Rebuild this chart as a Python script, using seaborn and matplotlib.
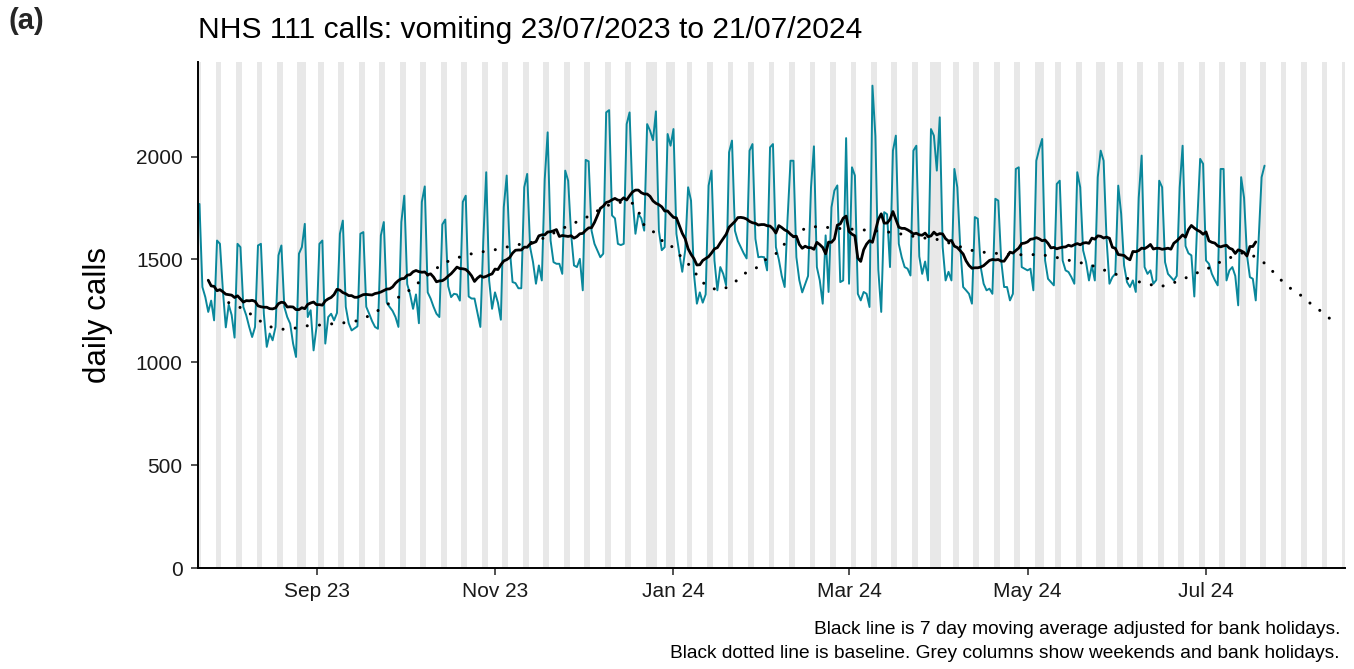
import numpy as np
import pandas as pd
import matplotlib
matplotlib.use("Agg")
import matplotlib.pyplot as plt
import matplotlib.dates as mdates
import seaborn as sns

# ---------------- data ----------------
start_date = "2023-07-23"

# daily NHS 111 calls (vomiting), 23/07/2023 .. 21/07/2024, one row per week (Sun..Sat)
daily_calls = [
    1770, 1366, 1317, 1245, 1300, 1204, 1592,
    1576, 1350, 1170, 1280, 1230, 1120, 1576,
    1560, 1269, 1228, 1172, 1123, 1172, 1568,
    1576, 1236, 1075, 1140, 1107, 1172, 1520,
    1568, 1269, 1220, 1188, 1091, 1026, 1528,
    1560, 1673, 1220, 1253, 1058, 1172, 1576,
    1592, 1091, 1220, 1236, 1204, 1240, 1625,
    1689, 1270, 1190, 1155, 1165, 1175, 1625,
    1633, 1270, 1236, 1200, 1172, 1163, 1617,
    1682, 1290, 1269, 1250, 1220, 1172, 1682,
    1810, 1380, 1330, 1260, 1330, 1190, 1780,
    1855, 1340, 1310, 1270, 1236, 1220, 1670,
    1694, 1370, 1317, 1333, 1330, 1300, 1780,
    1810, 1320, 1310, 1310, 1240, 1172, 1590,
    1924, 1398, 1260, 1340, 1290, 1207, 1754,
    1908, 1560, 1390, 1385, 1360, 1360, 1851,
    1916, 1560, 1487, 1382, 1471, 1398, 1890,
    2118, 1592, 1487, 1479, 1479, 1430, 1932,
    1883, 1625, 1471, 1463, 1503, 1350, 1984,
    1977, 1640, 1576, 1544, 1511, 1528, 2215,
    2226, 1714, 1700, 1576, 1570, 1576, 2158,
    2215, 1803, 1625, 1720, 1700, 1640, 2158,
    2126, 2080, 2220, 1640, 1545, 1560, 2110,
    2053, 2134, 1625, 1528, 1440, 1544, 1851,
    1786, 1430, 1285, 1340, 1290, 1330, 1859,
    1932, 1495, 1350, 1463, 1430, 1374, 2021,
    2078, 1640, 1590, 1560, 1530, 1505, 2029,
    2061, 1600, 1511, 1513, 1511, 1447, 2045,
    2061, 1560, 1500, 1420, 1366, 1700, 1980,
    1980, 1511, 1400, 1340, 1380, 1420, 1850,
    2050, 1463, 1398, 1285, 1617, 1342, 1754,
    1835, 1860, 1390, 1398, 2090, 1382, 1948,
    1908, 1333, 1301, 1342, 1333, 1269, 2345,
    2100, 1450, 1245, 1730, 1720, 1463, 2029,
    2102, 1576, 1511, 1463, 1455, 1422, 2029,
    2053, 1515, 1430, 1490, 1398, 2134, 2102,
    1932, 2191, 1560, 1398, 1440, 1398, 1940,
    1851, 1560, 1366, 1350, 1333, 1285, 1706,
    1698, 1463, 1382, 1350, 1358, 1333, 1795,
    1786, 1495, 1366, 1366, 1301, 1333, 1940,
    1948, 1463, 1455, 1447, 1455, 1350, 1980,
    2037, 2086, 1495, 1406, 1390, 1374, 1867,
    1883, 1495, 1447, 1439, 1414, 1382, 1924,
    1851, 1544, 1487, 1398, 1471, 1398, 1900,
    2029, 1980, 1600, 1382, 1414, 1430, 1859,
    1722, 1471, 1390, 1366, 1398, 1342, 1800,
    2005, 1463, 1430, 1447, 1382, 1400, 1883,
    1851, 1487, 1430, 1414, 1398, 1420, 1850,
    2053, 1565, 1530, 1520, 1320, 1680, 1989,
    1965, 1495, 1479, 1430, 1400, 1374, 1940,
    1940, 1398, 1447, 1463, 1420, 1277, 1900,
    1800, 1520, 1414, 1406, 1301, 1600, 1900,
    1956,
]

# baseline (day offset from start_date, calls)
baseline_day = [10, 14, 18, 21, 25, 29, 33, 37, 41, 46, 50, 54, 58, 62, 66, 69, 73, 76,
                80, 83, 87, 91, 95, 100, 104, 108, 113, 117, 121, 125, 129, 133, 137,
                141, 145, 148, 150, 152, 155, 158, 160, 163, 166, 169, 171, 175, 179,
                183, 186, 190, 193, 197, 200, 204, 207, 211, 216, 220, 225, 229, 233,
                238, 242, 246, 250, 253, 257, 261, 265, 270, 274, 279, 283, 287, 291,
                295, 299, 304, 307, 311, 315, 319, 324, 328, 332, 336, 340, 344, 348,
                352, 356, 360, 364, 367, 370, 373, 377, 380, 384, 387]
baseline_calls = [1290, 1266, 1230, 1198, 1168, 1160, 1167, 1178, 1181, 1188, 1193, 1202,
                  1226, 1260, 1298, 1325, 1362, 1403, 1445, 1479, 1503, 1521, 1534, 1544,
                  1557, 1570, 1581, 1600, 1628, 1657, 1683, 1710, 1745, 1772, 1780, 1773,
                  1735, 1665, 1637, 1592, 1587, 1536, 1495, 1447, 1398, 1358, 1354, 1390,
                  1430, 1455, 1495, 1528, 1576, 1620, 1652, 1660, 1654, 1649, 1646, 1641,
                  1637, 1629, 1617, 1608, 1600, 1596, 1576, 1557, 1540, 1532, 1528, 1523,
                  1523, 1524, 1516, 1503, 1490, 1476, 1460, 1439, 1419, 1398, 1382, 1366,
                  1382, 1403, 1430, 1451, 1482, 1507, 1532, 1519, 1482, 1439, 1395, 1358,
                  1320, 1282, 1241, 1204]

bank_holidays = ["2023-08-28", "2023-12-25", "2023-12-26", "2024-01-01",
                 "2024-03-29", "2024-04-01", "2024-05-06", "2024-05-27"]
x_tick_dates = ["2023-09-01", "2023-11-01", "2024-01-01", "2024-03-01", "2024-05-01", "2024-07-01"]
y_ticks = [0, 500, 1000, 1500, 2000]
x_span_days = 392

title_text = "NHS 111 calls: vomiting 23/07/2023 to 21/07/2024"
panel_label = "(a)"
y_label = "daily calls"
caption_lines = ["Black line is 7 day moving average adjusted for bank holidays.",
                 "Black dotted line is baseline. Grey columns show weekends and bank holidays."]

# ---------------- style ----------------
sns.set_style("ticks")
plt.rcParams['font.family'] = ['Liberation Sans', 'DejaVu Sans']

TEAL = "#0A879B"
GREY_COL = "#E8E8E8"
TXT = "#1A1A1A"

start = pd.Timestamp(start_date)
dates = pd.date_range(start, periods=len(daily_calls), freq="D")
df = pd.DataFrame({"date": dates, "calls": daily_calls})
bh = set(pd.to_datetime(bank_holidays))

# 7 day moving average, adjusted for bank holidays: a bank holiday's count is
# replaced by the mean of the same weekday in the neighbouring non-holiday weeks
adj = df["calls"].astype(float).copy()
is_bh = df["date"].isin(bh).to_numpy()
for i in np.where(is_bh)[0]:
    neigh = []
    for k in (-7, 7, -14, 14):
        j = i + k
        if 0 <= j < len(df) and not is_bh[j]:
            neigh.append(df["calls"].iloc[j])
        if len(neigh) == 2:
            break
    adj.iloc[i] = np.mean(neigh)
df["ma7"] = adj.rolling(7, center=True).mean()

base = pd.DataFrame({"date": start + pd.to_timedelta(baseline_day, unit="D"),
                     "calls": baseline_calls})

W, H = 1354, 669
fig = plt.figure(figsize=(W / 100, H / 100), dpi=100)
ax = fig.add_axes([198 / W, 1 - 568 / H, (1345 - 198) / W, (568 - 62) / H])

# grey columns: weekends and bank holidays
for d in pd.date_range(start - pd.Timedelta(days=1), start + pd.Timedelta(days=x_span_days)):
    if d.weekday() >= 5 or d in bh:
        c = mdates.date2num(d)
        ax.axvspan(c - 0.5, c + 0.5, color=GREY_COL, lw=0, zorder=0)

sns.lineplot(data=df, x="date", y="calls", ax=ax, color=TEAL, linewidth=1.4, zorder=2)
sns.lineplot(data=base, x="date", y="calls", ax=ax, color="black", linewidth=2.2,
             linestyle=(0, (0.01, 4.0)), dash_capstyle="round", zorder=3)
sns.lineplot(data=df.dropna(), x="date", y="ma7", ax=ax, color="black", linewidth=2.0, zorder=4)

x0 = mdates.date2num(start)
ax.set_xlim(x0 - 0.5, x0 + x_span_days - 0.5)
ax.set_ylim(0, 2460)

ax.set_xticks([mdates.date2num(pd.Timestamp(t)) for t in x_tick_dates])
ax.xaxis.set_major_formatter(mdates.DateFormatter("%b %y"))
ax.set_yticks(y_ticks)
ax.set_yticklabels([str(v) for v in y_ticks])

for s in ["top", "right"]:
    ax.spines[s].set_visible(False)
for s in ["left", "bottom"]:
    ax.spines[s].set_color("black")
    ax.spines[s].set_linewidth(1.4)
ax.tick_params(axis="both", length=5, width=1.2, color="#333333", labelsize=15,
               labelcolor=TXT)
ax.tick_params(axis="y", pad=6)
ax.tick_params(axis="x", pad=5)

ax.set_xlabel("")
ax.set_ylabel(y_label, fontsize=22.5, color="black")
ax.yaxis.set_label_coords(-0.074, 0.5)

fig.text(198 / W, 1 - 30 / H, title_text, fontsize=21.6, ha="left", va="center", color="black")
fig.text(8 / W, 1 - 21 / H, panel_label, fontsize=21, fontweight="bold", ha="left", va="center")
fig.text(1340 / W, 1 - 630 / H, caption_lines[0], fontsize=13.8, ha="right", va="center", color="black")
fig.text(1340 / W, 1 - 653 / H, caption_lines[1], fontsize=13.8, ha="right", va="center", color="black")

fig.savefig("out.png", dpi=100)
